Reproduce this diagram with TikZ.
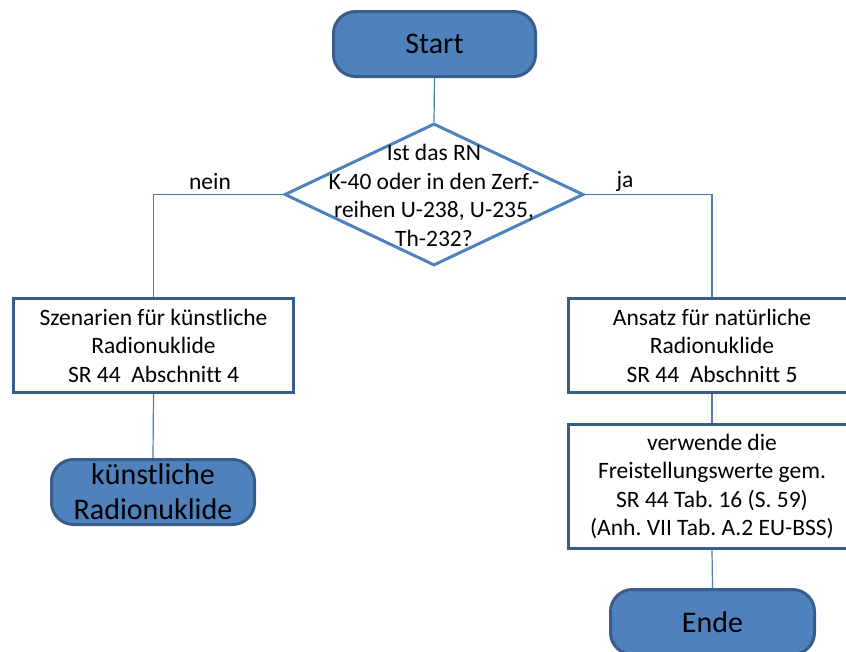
\documentclass[tikz,border=0pt]{standalone}
\usepackage{fontspec}
\setmainfont[Ligatures=NoCommon]{Carlito}
\usetikzlibrary{shapes.geometric}
\definecolor{fillblue}{HTML}{4F81BD}
\definecolor{darkblue}{HTML}{385D8A}
\definecolor{lineblue}{HTML}{4A7EBB}
\frenchspacing
\tikzset{
 term/.style={rounded corners=22pt, fill=fillblue, draw=darkblue, line width=3pt, inner sep=0pt, font=\fontsize{30}{35}\selectfont, align=center},
 procbox/.style={draw=darkblue, line width=3pt, fill=white, inner sep=0pt, font=\fontsize{23.5}{28.5}\selectfont, align=center},
 decision/.style={diamond, draw=fillblue, line width=3pt, inner sep=0pt},
 txt/.style={inner sep=0pt, font=\fontsize{23.5}{28.5}\selectfont, align=center},
 conn/.style={draw=lineblue, line width=1.2pt},
}
\begin{document}
\begin{tikzpicture}[x=1pt,y=-1pt]
\clip (0,0) rectangle (846,651);
\fill[white] (0,0) rectangle (846,651);
\node[term, minimum width=202pt, minimum height=65pt] (start) at (434.5,44) {Start};
\node[decision, minimum width=299pt, minimum height=142pt] (dec) at (434,194.5) {};
\node[txt] (dtext) at (434,195.5) {Ist das RN\\K-40 oder in den Zerf.-\\reihen U-238, U-235,\\Th-232?};
\node[procbox, minimum width=280pt, minimum height=94pt] (lbox) at (153.5,345.5) {Szenarien für künstliche\\Radionuklide\\SR 44\ \ Abschnitt 4};
\node[term, minimum width=203pt, minimum height=65pt] (lterm) at (153,492) {künstliche\\Radionuklide};
\node[procbox, minimum width=287pt, minimum height=94pt] (rbox) at (712,345.5) {Ansatz für natürliche\\Radionuklide\\SR 44\ \ Abschnitt 5};
\node[procbox, minimum width=287pt, minimum height=124pt] (rbox2) at (712,486.5) {verwende die\\Freistellungswerte gem.\\SR 44 Tab. 16 (S. 59)\\(Anh. VII Tab. A.2 EU-BSS)};
\node[term, minimum width=204pt, minimum height=65pt] (ende) at (712.5,622) {Ende};
\draw[conn] (start.south) -- (dec.north);
\draw[conn] (dec.west) -| (lbox.north);
\draw[conn] (dec.east) -| (rbox.north);
\draw[conn] (lbox.south) -- (lterm.north);
\draw[conn] (rbox.south) -- (rbox2.north);
\draw[conn] (rbox2.south) -- (ende.north);
\node[txt] (nein) at (210,181) {nein};
\node[txt] (ja) at (625,181) {ja};
\end{tikzpicture}
\end{document}
